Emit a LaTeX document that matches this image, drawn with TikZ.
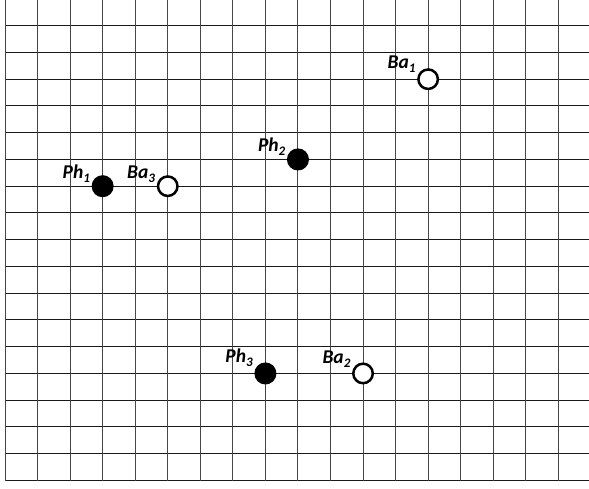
\documentclass[tikz,border=0pt]{standalone}
\usepackage{fontspec}
\setmainfont{Carlito}
% lowered index digit used in the point labels
\newcommand{\idx}[1]{\raisebox{-4pt}{\fontsize{13}{13}\selectfont #1}}
\begin{document}
\begin{tikzpicture}[x=1pt,y=1pt,
  gridv/.style={line width=1pt, black!72},
  gridh/.style={line width=1pt, black!90},
  dot/.style={circle, draw=black, line width=2.5pt, minimum size=19.5pt, inner sep=0pt},
  ph/.style={dot, fill=black},
  ba/.style={dot, fill=white},
  lab/.style={font=\fontsize{19.5}{19.5}\selectfont\bfseries\itshape, inner sep=0pt, anchor=base east}]
\useasboundingbox (0,0) rectangle (589,488);
% square grid: 17 columns, horizontal rules run out to the right edge
\foreach \k in {0,...,17}
  \draw[gridh] (5,{462.3-26.75*\k}) -- (589,{462.3-26.75*\k});
\foreach \i in {0,...,17}
  \draw[gridv] ({5+32.55*\i},7.3) -- ({5+32.55*\i},489);
% points placed on grid intersections (column i, row k)
\node[ba] (ba1) at ({5+32.55*13},{462.3-26.75*2}) {};
\node[ph] (ph2) at ({5+32.55*9},{462.3-26.75*5}) {};
\node[ph] (ph1) at ({5+32.55*3},{462.3-26.75*6}) {};
\node[ba] (ba3) at ({5+32.55*5},{462.3-26.75*6}) {};
\node[ph] (ph3) at ({5+32.55*8},{462.3-26.75*13}) {};
\node[ba] (ba2) at ({5+32.55*11},{462.3-26.75*13}) {};
% labels
\node[lab] (lba1) at ([shift={(-12.5,10.5)}]ba1.center) {Ba\idx{1}};
\node[lab] (lph2) at ([shift={(-12.5,8)}]ph2.center) {Ph\idx{2}};
\node[lab] (lph1) at ([shift={(-12.5,8)}]ph1.center) {Ph\idx{1}};
\node[lab] (lba3) at ([shift={(-12.5,8)}]ba3.center) {Ba\idx{3}};
\node[lab] (lph3) at ([shift={(-12.5,10.5)}]ph3.center) {Ph\idx{3}};
\node[lab] (lba2) at ([shift={(-12.5,9.5)}]ba2.center) {Ba\idx{2}};
\end{tikzpicture}
\end{document}
